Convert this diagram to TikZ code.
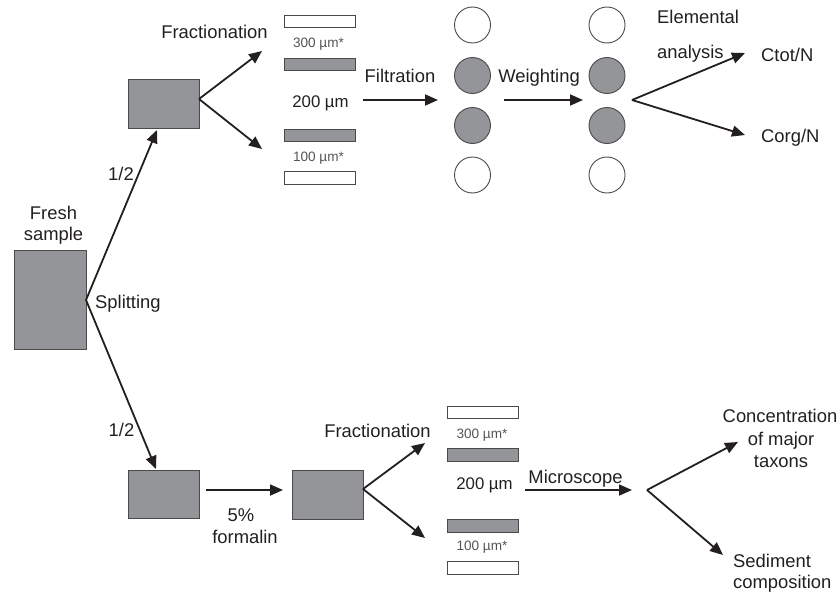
\documentclass[tikz,border=0pt]{standalone}
\usepackage{fontspec}
\setmainfont{Liberation Sans}
\usetikzlibrary{arrows.meta}
\definecolor{boxgray}{HTML}{939598}
\definecolor{edgegray}{HTML}{4A4A4A}
\definecolor{smallgray}{HTML}{555555}
\definecolor{inkblack}{HTML}{231F20}
\begin{document}
\begin{tikzpicture}[x=1pt,y=-1pt,
  lbl/.style={font=\fontsize{18.4}{22}\selectfont, inner sep=0pt, anchor=base, text=inkblack},
  lblw/.style={lbl, anchor=base west},
  mid/.style={font=\fontsize{16.8}{20}\selectfont, inner sep=0pt, anchor=base, text=inkblack},
  small/.style={font=\fontsize{13.6}{16}\selectfont, inner sep=0pt, anchor=base, text=smallgray},
  graybox/.style={draw=edgegray, fill=boxgray, line width=1pt, inner sep=0pt, minimum width=71pt, minimum height=49pt},
  whitebar/.style={draw=edgegray, fill=white, line width=0.9pt, inner sep=0pt, minimum width=71pt, minimum height=12.5pt},
  graybar/.style={draw=edgegray, fill=boxgray, line width=0.9pt, inner sep=0pt, minimum width=71pt, minimum height=12.5pt},
  wcirc/.style={circle, draw=edgegray, fill=white, line width=0.9pt, inner sep=0pt, minimum size=36pt},
  gcirc/.style={circle, draw=edgegray, fill=boxgray, line width=0.9pt, inner sep=0pt, minimum size=36pt},
  flow/.style={draw=inkblack, line width=1.8pt, -{Triangle[length=13pt,width=11pt]}}
]
\useasboundingbox (0,0) rectangle (840,594);

% ---------- boxes ----------
\node[graybox, minimum width=72pt, minimum height=99pt] (fresh) at (50,299.5) {};
\node[graybox] (ubox) at (163.5,103.5) {};
\node[graybox, minimum height=48pt] (lbox) at (163.5,494) {};
\node[graybox] (fbox) at (327.5,494.5) {};

% ---------- top bars ----------
\node[whitebar] (tb1) at (319.5,21.5) {};
\node[graybar]  (tb2) at (319.5,64.5) {};
\node[graybar]  (tb3) at (319.5,135.5) {};
\node[whitebar] (tb4) at (319.5,178) {};
% ---------- bottom bars ----------
\node[whitebar] (bb1) at (482.5,412.5) {};
\node[graybar]  (bb2) at (482.5,455) {};
\node[graybar]  (bb3) at (482.5,526) {};
\node[whitebar] (bb4) at (482.5,568) {};

% ---------- circles ----------
\node[wcirc] (c11) at (472.5,25) {};
\node[gcirc] (c12) at (472.5,75.5) {};
\node[gcirc] (c13) at (472.5,125.5) {};
\node[wcirc] (c14) at (472.5,175) {};
\node[wcirc] (c21) at (607,25) {};
\node[gcirc] (c22) at (607,75.5) {};
\node[gcirc] (c23) at (607,125.5) {};
\node[wcirc] (c24) at (607,175) {};

% ---------- coordinates ----------
\coordinate (splitapex) at (86,300);
\coordinate (uptip) at (157,130);
\coordinate (downtip) at (156,469);
\coordinate (uapex) at (199,99);
\coordinate (uup) at (262,51);
\coordinate (udown) at (262,149);
\coordinate (filtA) at (363,100);
\coordinate (filtB) at (438,100);
\coordinate (weiA) at (504,100);
\coordinate (weiB) at (583,100);
\coordinate (eapex) at (632,100);
\coordinate (ctot) at (745,53);
\coordinate (corg) at (745,135);
\coordinate (formA) at (206,490);
\coordinate (formB) at (283,490);
\coordinate (bapex) at (363,489);
\coordinate (bup) at (425,443);
\coordinate (bdown) at (425,538);
\coordinate (micA) at (525,490);
\coordinate (micB) at (632,490);
\coordinate (rapex) at (647,490);
\coordinate (rup) at (738,442);
\coordinate (rdown) at (723,555);

% ---------- connectors ----------
\draw[flow] (splitapex) -- (uptip);
\draw[flow] (splitapex) -- (downtip);
\draw[flow] (uapex) -- (uup);
\draw[flow] (uapex) -- (udown);
\draw[flow] (filtA) -- (filtB);
\draw[flow] (weiA) -- (weiB);
\draw[flow] (eapex) -- (ctot);
\draw[flow] (eapex) -- (corg);
\draw[flow] (formA) -- (formB);
\draw[flow] (bapex) -- (bup);
\draw[flow] (bapex) -- (bdown);
\draw[flow] (micA) -- (micB);
\draw[flow] (rapex) -- (rup);
\draw[flow] (rapex) -- (rdown);

% ---------- labels ----------
\node[lbl] (tfresh) at (53.5,219) {Fresh};
\node[lbl] (tsample) at (53.5,240) {sample};
\node[lblw] (tsplit) at (95,308) {Splitting};
\node[lbl] (thalf1) at (121,180) {1/2};
\node[lbl] (thalf2) at (121.5,436) {1/2};

\node[lbl] (tfrac1) at (214.5,38) {Fractionation};
\node[small] (t300a) at (318.5,48) {300 µm*};
\node[mid] (t200a) at (320.5,107) {200 µm};
\node[small] (t100a) at (318.5,161) {100 µm*};
\node[lbl] (tfilt) at (400,82) {Filtration};
\node[lbl] (twei) at (539,82) {Weighting};
\node[lblw] (telem) at (657,24) {Elemental};
\node[lblw] (tanal) at (657,59) {analysis};
\node[lblw] (tctot) at (761,61) {Ctot/N};
\node[lblw] (tcorg) at (761,142) {Corg/N};

\node[lbl] (t5) at (241,521) {5\%};
\node[lbl] (tform) at (245,543) {formalin};
\node[lbl] (tfrac2) at (377.5,437) {Fractionation};
\node[small] (t300b) at (482,438) {300 µm*};
\node[mid] (t200b) at (484.5,489) {200 µm};
\node[small] (t100b) at (482,550) {100 µm*};
\node[lbl] (tmic) at (575.5,483) {Microscope};
\node[lbl] (tconc) at (780,422) {Concentration};
\node[lbl] (tmaj) at (781,445) {of major};
\node[lbl] (ttax) at (781,467) {taxons};
\node[lblw] (tsed) at (733,567) {Sediment};
\node[lblw] (tcomp) at (733,588.5) {composition};
\end{tikzpicture}
\end{document}
